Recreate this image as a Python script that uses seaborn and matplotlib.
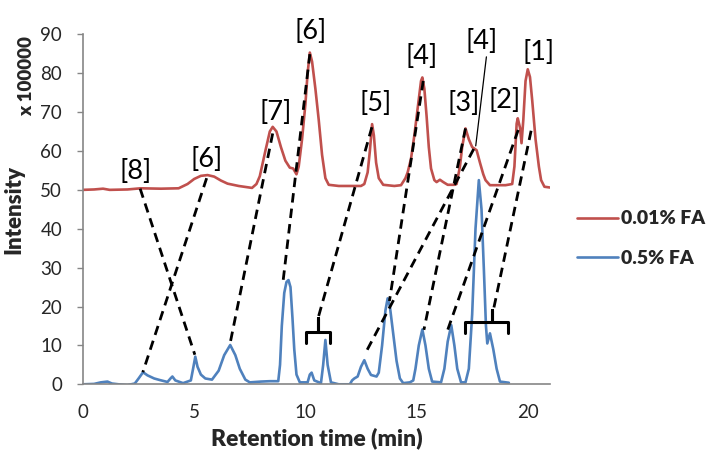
import matplotlib
matplotlib.use("Agg")
import matplotlib.pyplot as plt
import seaborn as sns

# red trace (0.01% FA): retention time (min) / intensity (x 100000)
red_t = [0.0, 0.5, 0.9, 1.2, 2.0, 2.6, 3.5, 4.3, 4.7, 5.0, 5.3, 5.6, 5.9, 6.2, 6.5, 7.0, 7.6,
         7.8, 7.95, 8.2, 8.4, 8.53, 8.7, 8.9, 9.1, 9.3, 9.45, 9.6, 9.7, 9.85, 10.0, 10.1, 10.2,
         10.3, 10.45, 10.6, 10.75, 10.9, 11.05, 11.5, 12.0, 12.5, 12.65, 12.8, 12.9, 13.0, 13.08,
         13.18, 13.3, 13.5, 14.0, 14.3, 14.5, 14.6, 14.75, 14.9, 15.05, 15.2, 15.26, 15.35, 15.45,
         15.55, 15.65, 15.8, 15.9, 16.05, 16.2, 16.4, 16.7, 16.8, 16.95, 17.05, 17.2, 17.35, 17.5,
         17.7, 17.85, 18.0, 18.1, 18.3, 19.0, 19.3, 19.4, 19.5, 19.55, 19.65, 19.72, 19.8, 19.9,
         20.0, 20.1, 20.2, 20.35, 20.5, 20.6, 20.75, 21.0]
red_v = [50.0, 50.1, 50.3, 50.0, 50.1, 50.4, 50.3, 50.4, 51.5, 52.8, 53.6, 53.8, 53.4, 52.4, 51.6,
         51.0, 50.5, 51.5, 53.5, 60.0, 65.0, 66.2, 65.0, 61.0, 57.5, 55.7, 55.5, 54.0, 56.0, 63.0,
         72.0, 80.0, 85.3, 83.0, 76.0, 68.0, 59.0, 53.0, 51.3, 51.0, 51.0, 51.0, 51.5, 54.5, 60.0,
         66.9, 64.0, 57.0, 53.0, 51.3, 51.0, 51.2, 53.0, 54.5, 58.0, 64.0, 71.0, 78.0, 78.9, 76.0,
         69.0, 61.0, 55.5, 52.5, 52.0, 52.6, 52.0, 51.3, 51.3, 51.5, 56.0, 61.0, 65.8, 63.0, 61.0,
         60.2, 57.0, 54.0, 52.5, 51.2, 51.2, 51.5, 56.0, 67.0, 68.4, 66.0, 62.0, 68.0, 78.0, 81.0,
         79.0, 73.0, 63.0, 56.0, 52.5, 50.8, 50.6]

# blue trace (0.5% FA)
blue_t = [0.0, 0.5, 0.8, 1.1, 1.3, 1.6, 2.0, 2.33, 2.5, 2.7, 2.9, 3.2, 3.45, 3.8, 3.95, 4.02, 4.15,
          4.5, 4.85, 4.95, 5.05, 5.15, 5.3, 5.5, 5.8, 6.1, 6.35, 6.62, 6.85, 7.05, 7.3, 7.5, 8.0,
          8.4, 8.78, 8.86, 8.94, 9.05, 9.15, 9.24, 9.33, 9.42, 9.5, 9.6, 9.75, 10.1, 10.2, 10.28,
          10.4, 10.7, 10.8, 10.9, 11.0, 11.15, 11.5, 12.0, 12.1, 12.2, 12.35, 12.5, 12.65, 12.8,
          12.95, 13.2, 13.3, 13.45, 13.6, 13.7, 13.8, 13.95, 14.1, 14.25, 14.4, 14.7, 14.85,
          14.95, 15.1, 15.26, 15.4, 15.55, 15.7, 16.1, 16.25, 16.4, 16.56, 16.7, 16.83, 17.0,
          17.2, 17.35, 17.5, 17.65, 17.8, 17.92, 18.03, 18.12, 18.18, 18.3, 18.45, 18.6, 18.75,
          19.15]
blue_v = [0.0, 0.1, 0.5, 0.7, 0.2, 0.0, -0.2, 0.2, 1.5, 3.1, 2.3, 1.5, 1.1, 0.6, 1.6, 2.0, 1.0,
          0.3, 1.0, 4.0, 7.1, 4.5, 2.5, 1.5, 1.2, 3.5, 7.5, 10.1, 7.5, 4.0, 1.2, 0.5, 0.7, 0.8,
          0.8, 5.0, 15.0, 23.5, 26.3, 26.8, 25.0, 17.0, 9.0, 2.5, 0.5, 0.5, 2.5, 3.0, 1.0, 0.3,
          5.0, 11.4, 5.0, 0.5, 0.0, 0.0, 1.0, 1.5, 2.0, 4.5, 6.2, 4.0, 2.4, 2.0, 3.0, 10.0, 19.0,
          22.1, 20.0, 13.0, 6.0, 1.5, 0.3, 0.5, 1.0, 4.0, 10.0, 14.1, 10.0, 4.0, 0.7, 0.5, 4.0,
          11.0, 15.2, 10.0, 4.0, 0.5, 0.5, 4.0, 18.0, 40.0, 52.5, 45.0, 29.0, 15.0, 10.5, 13.1,
          9.0, 4.0, 0.7, 0.4]

# peak labels
label_text = ["[8]", "[6]", "[7]", "[6]", "[5]", "[4]", "[4]", "[3]", "[2]", "[1]"]
label_t = [2.35, 5.54, 8.65, 10.25, 13.16, 15.24, 17.92, 17.12, 18.97, 20.48]
label_v = [54.6, 57.7, 69.8, 90.8, 72.1, 84.2, 88.1, 72.3, 72.9, 85.2]

# dashed links: red peak -> matching blue peak
link_red_t = [2.57, 5.56, 8.53, 10.2, 12.99, 15.3, 17.2, 17.57, 19.57, 20.15]
link_red_v = [50.3, 53.0, 64.5, 84.9, 66.1, 78.0, 65.8, 60.5, 65.4, 65.2]
link_blue_t = [5.03, 2.69, 6.6, 8.99, 10.56, 13.78, 15.33, 12.68, 16.4, 18.44]
link_blue_v = [7.6, 3.1, 10.1, 26.2, 16.8, 21.4, 14.0, 7.8, 14.0, 18.7]

# thin pointer from the upper [4] label to the shoulder
pointer_t = [18.14, 17.66]
pointer_v = [84.2, 61.3]

# brackets grouping blue peaks
brace_left = [10.03, 17.17]
brace_right = [11.12, 19.1]
brace_mid = [10.55, 18.4]
brace_low = [10.6, 13.1]
brace_high = [13.5, 16.1]
brace_tip = [17.0, 19.1]

RED = "#C0504D"
BLUE = "#4F81BD"
AXIS_GREY = "#868686"

sns.set_style("white")
plt.rcParams["font.family"] = ["Lato", "DejaVu Sans"]

fig = plt.figure(figsize=(7.21, 4.55), dpi=100)
ax = fig.add_axes([83 / 721, 1 - 384.3 / 455, 467 / 721, 350 / 455])

sns.lineplot(x=red_t, y=red_v, sort=False, estimator=None, ax=ax,
             color=RED, lw=1.9, label="0.01% FA")
sns.lineplot(x=blue_t, y=blue_v, sort=False, estimator=None, ax=ax,
             color=BLUE, lw=1.9, label="0.5% FA")

# dashed connections
for i in range(len(link_red_t)):
    ax.plot([link_red_t[i], link_blue_t[i]], [link_red_v[i], link_blue_v[i]],
            color="black", lw=2.0, linestyle=(0, (3.4, 2.2)), zorder=4)

ax.plot(pointer_t, pointer_v, color="black", lw=0.9, zorder=4)

# brackets
for i in range(len(brace_left)):
    bx = [brace_left[i], brace_left[i], brace_mid[i], brace_mid[i], brace_mid[i],
          brace_right[i], brace_right[i]]
    by = [brace_low[i], brace_high[i], brace_high[i], brace_tip[i], brace_high[i],
          brace_high[i], brace_low[i]]
    ax.plot(bx, by, color="black", lw=2.2, solid_joinstyle="round", zorder=4)

for txt, t, v in zip(label_text, label_t, label_v):
    ax.text(t, v, txt, fontsize=19.5, ha="center", va="center", color="black",
            clip_on=False, zorder=5)

ax.set_xlim(0, 21)
ax.set_ylim(0, 90)
ax.set_xticks([0, 5, 10, 15, 20])
ax.set_yticks(range(0, 91, 10))

for side in ["top", "right"]:
    ax.spines[side].set_visible(False)
for side in ["left", "bottom"]:
    ax.spines[side].set_color(AXIS_GREY)
    ax.spines[side].set_linewidth(1.2)

ax.tick_params(axis="y", direction="out", length=4, width=1, color=AXIS_GREY,
               labelsize=13.5, pad=11, left=True)
ax.tick_params(axis="x", length=0, labelsize=13.5, pad=14, bottom=True)

ax.set_xlabel("Retention time (min)", fontsize=16.5, fontweight="heavy", labelpad=5)
ax.set_ylabel("Intensity", fontsize=16, fontweight="heavy")
ax.yaxis.set_label_coords(-(83 - 24) / 467, 0.5)
fig.text(26.5 / 721, 1 - 76 / 455, "x 100000", rotation=90, fontsize=13.5,
         fontweight="heavy", ha="center", va="center")

ax.legend(loc="center left", bbox_to_anchor=(577 / 721, 1 - 238.5 / 455),
          bbox_transform=fig.transFigure, frameon=False, borderpad=0,
          borderaxespad=0, handlelength=2.1, handletextpad=0.15,
          labelspacing=1.15, prop={"weight": "heavy", "size": 14})

fig.savefig("out.png", dpi=100)
